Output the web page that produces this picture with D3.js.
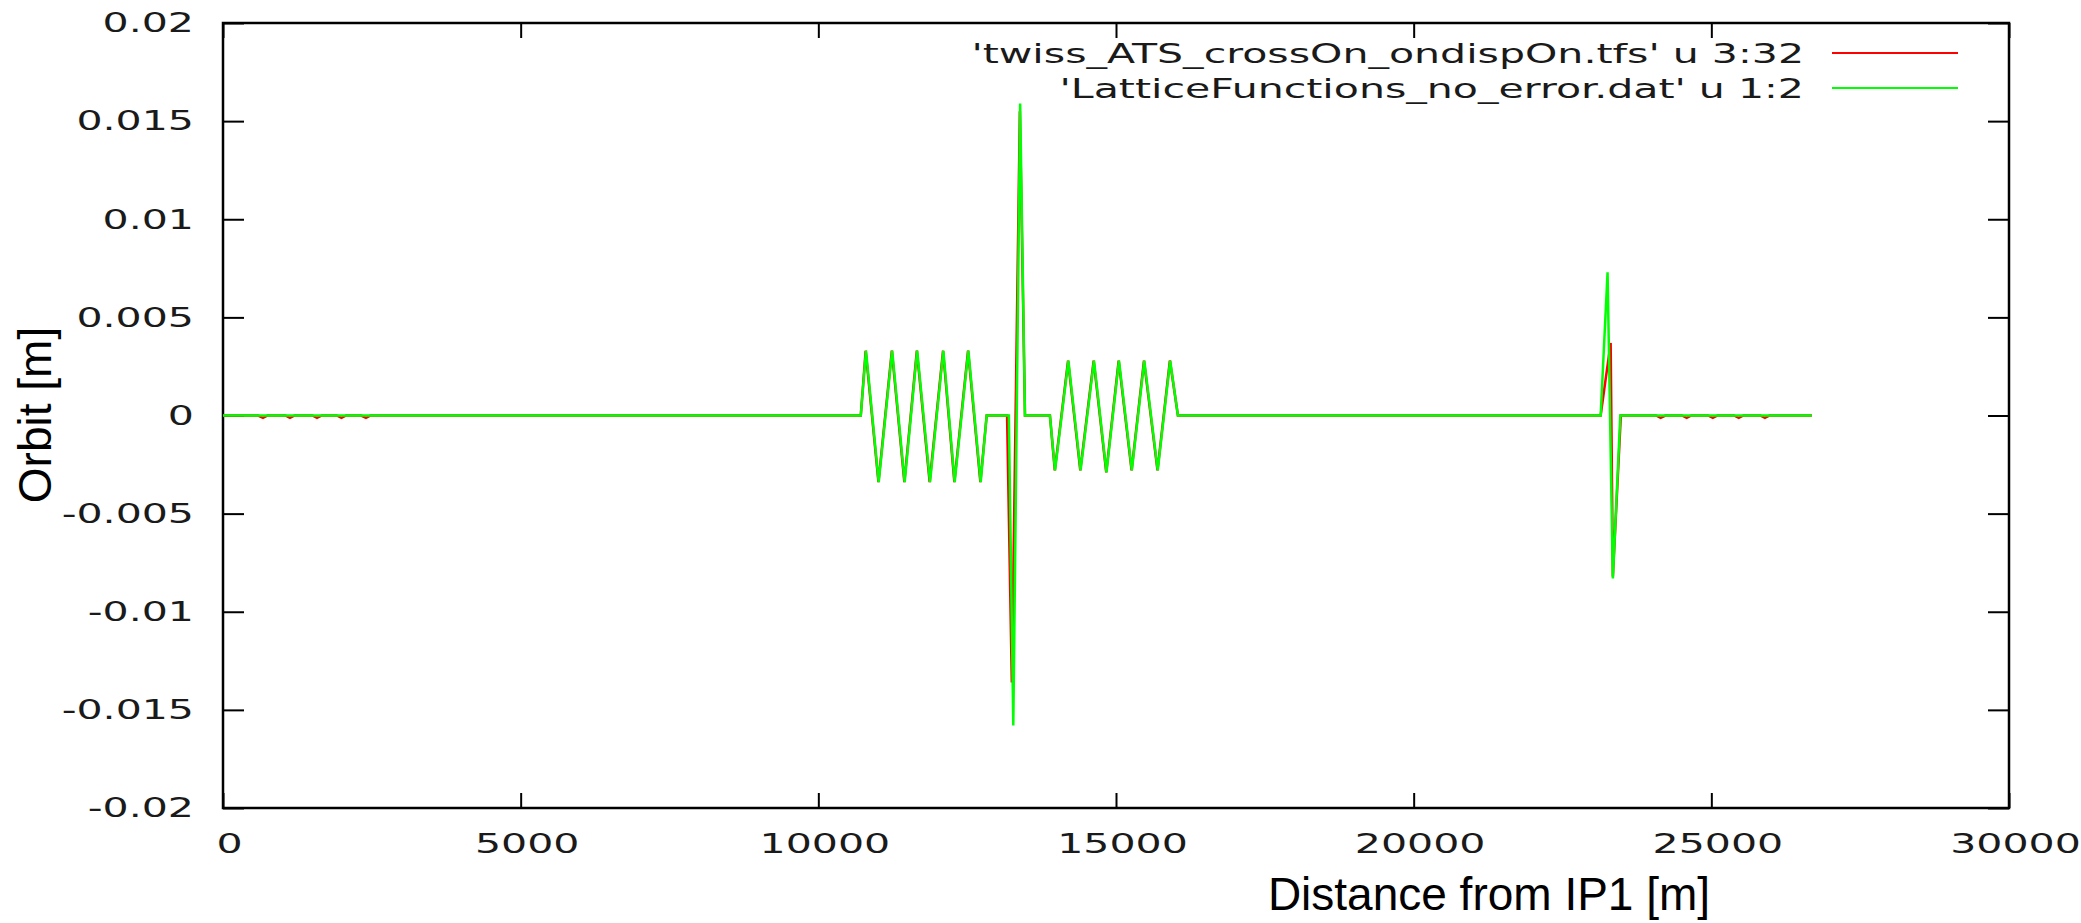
<!DOCTYPE html>
<html>
<head>
<meta charset="utf-8">
<script src="https://cdn.jsdelivr.net/npm/d3@7"></script>
<style>
  html, body { margin: 0; padding: 0; background: #ffffff; }
  svg { display: block; }
</style>
</head>
<body>
<script>
// ---------------- data ----------------
const xTicks = [0, 5000, 10000, 15000, 20000, 25000, 30000];
const xTickLabels = ["0", "5000", "10000", "15000", "20000", "25000", "30000"];
const yTicks = [0.02, 0.015, 0.01, 0.005, 0, -0.005, -0.01, -0.015, -0.02];
const yTickLabels = ["0.02", "0.015", "0.01", "0.005", "0", "-0.005", "-0.01", "-0.015", "-0.02"];
const legendLabels = ["'twiss_ATS_crossOn_ondispOn.tfs' u 3:32", "'LatticeFunctions_no_error.dat' u 1:2"];
const seriesColors = ["#ff0000", "#00ff00"];

// LatticeFunctions_no_error.dat (green)
const sGreen = [0, 10713, 10800, 11014, 11240, 11450, 11660, 11876, 12100, 12290, 12520, 12727, 12828,
  13200, 13275, 13390, 13471, 13890, 13976, 14200, 14405, 14630, 14840, 15050, 15266, 15475, 15701,
  15910, 16040, 23141, 23257, 23346, 23471, 26687];
const orbitGreen = [0, 0, 0.0033, -0.0034, 0.0033, -0.0034, 0.0033, -0.0034, 0.0033, -0.0034, 0.0033, -0.0034, 0,
  0, -0.0158, 0.0159, 0, 0, -0.0028, 0.0028, -0.0028, 0.0028, -0.0029, 0.0028, -0.0028, 0.0028, -0.0028,
  0.0028, 0, 0, 0.0073, -0.0083, 0, 0];

// twiss_ATS_crossOn_ondispOn.tfs (red)
const sRed = [0, 590, 672, 750, 1045, 1125, 1205, 1500, 1579, 1660, 1910, 1990, 2070, 2320, 2402, 2480,
  10713, 10795, 11010, 11235, 11445, 11655, 11870, 12095, 12285, 12515, 12722, 12828,
  13170, 13250, 13385, 13471, 13890, 13972, 14195, 14400, 14625, 14836, 15045, 15262, 15470, 15697,
  15905, 16040, 23141, 23309, 23346, 23480, 24070, 24148, 24230, 24505, 24586, 24665, 24945, 25025,
  25105, 25380, 25461, 25540, 25820, 25900, 25980, 26687];
const orbitRed = [0, 0, -0.00012, 0, 0, -0.00012, 0, 0, -0.00012, 0, 0, -0.00012, 0, 0, -0.00012, 0,
  0, 0.0033, -0.0034, 0.0033, -0.0034, 0.0033, -0.0034, 0.0033, -0.0034, 0.0033, -0.0034, 0,
  0, -0.0136, 0.0155, 0, 0, -0.0028, 0.0028, -0.0028, 0.0028, -0.0029, 0.0028, -0.0028, 0.0028, -0.0028,
  0.0028, 0, 0, 0.0037, -0.0082, 0, 0, -0.00012, 0, 0, -0.00012, 0, 0, -0.00012,
  0, 0, -0.00012, 0, 0, -0.00012, 0, 0];

// ---------------- layout ----------------
const W = 2081, H = 923;
const plotL = 223, plotR = 2009, plotT = 23, plotB = 808;
const textStretch = 1.58;
const tickFont = "'DejaVu Sans', Verdana, sans-serif";
const titleFont = "'Liberation Sans', Arial, Helvetica, sans-serif";

const svg = d3.select("body").append("svg").attr("width", W).attr("height", H);
svg.append("rect").attr("width", W).attr("height", H).attr("fill", "#ffffff");

const x = d3.scaleLinear().domain([0, 30000]).range([plotL, plotR]);
const y = d3.scaleLinear().domain([-0.02, 0.02]).range([plotB, plotT]);

function styleTicks(g) {
  g.select(".domain").remove();
  g.selectAll(".tick line").attr("stroke", "#000").attr("stroke-width", 2);
}

// left axis
svg.append("g")
  .attr("transform", `translate(${plotL},0)`)
  .call(d3.axisLeft(y).tickValues(yTicks).tickSize(-21).tickSizeOuter(0)
    .tickFormat((d, i) => yTickLabels[i]))
  .attr("font-family", tickFont).attr("font-size", 26)
  .call(styleTicks)
  .call(g => g.selectAll(".tick text")
    .attr("x", 0).attr("dy", "0.34em").attr("fill", "#1a1a1a")
    .attr("transform", `translate(-29,0) scale(${textStretch},1)`));

// right axis (mirror ticks)
svg.append("g")
  .attr("transform", `translate(${plotR},0)`)
  .call(d3.axisRight(y).tickValues(yTicks).tickSize(-21).tickSizeOuter(0))
  .call(styleTicks)
  .call(g => g.selectAll(".tick text").remove());

// bottom axis
svg.append("g")
  .attr("transform", `translate(0,${plotB})`)
  .call(d3.axisBottom(x).tickValues(xTicks).tickSize(-15).tickSizeOuter(0)
    .tickFormat((d, i) => xTickLabels[i]))
  .attr("font-family", tickFont).attr("font-size", 26)
  .call(styleTicks)
  .call(g => g.selectAll(".tick text")
    .attr("y", 45).attr("dy", 0).attr("fill", "#1a1a1a")
    .attr("transform", `translate(6,0) scale(${textStretch},1)`));

// top axis (mirror ticks)
svg.append("g")
  .attr("transform", `translate(0,${plotT})`)
  .call(d3.axisTop(x).tickValues(xTicks).tickSize(-15).tickSizeOuter(0))
  .call(styleTicks)
  .call(g => g.selectAll(".tick text").remove());

// border
svg.append("rect")
  .attr("x", plotL).attr("y", plotT)
  .attr("width", plotR - plotL).attr("height", plotB - plotT)
  .attr("fill", "none").attr("stroke", "#000").attr("stroke-width", 2.5);

// data lines
const line = d3.line().x(d => x(d[0])).y(d => y(d[1]));
const redData = sRed.map((s, i) => [s, orbitRed[i]]);
const greenData = sGreen.map((s, i) => [s, orbitGreen[i]]);

svg.append("path").datum(redData)
  .attr("d", line).attr("fill", "none")
  .attr("stroke", seriesColors[0]).attr("stroke-width", 2.5).attr("stroke-linejoin", "miter");
svg.append("path").datum(greenData)
  .attr("d", line).attr("fill", "none")
  .attr("stroke", seriesColors[1]).attr("stroke-width", 2.5).attr("stroke-linejoin", "miter");

// legend
const legendRowY = [53, 88];
legendLabels.forEach((lab, i) => {
  svg.append("text")
    .attr("transform", `translate(1804,${legendRowY[i] + 9.5}) scale(${textStretch},1)`)
    .attr("text-anchor", "end")
    .attr("font-family", tickFont).attr("font-size", 26).attr("fill", "#1a1a1a")
    .text(lab);
  svg.append("line")
    .attr("x1", 1832).attr("x2", 1958)
    .attr("y1", legendRowY[i]).attr("y2", legendRowY[i])
    .attr("stroke", seriesColors[i]).attr("stroke-width", 2.2);
});

// axis titles
svg.append("text")
  .attr("transform", "translate(51,415) rotate(-90)")
  .attr("text-anchor", "middle")
  .attr("font-family", titleFont).attr("font-size", 46).attr("fill", "#000")
  .text("Orbit [m]");

svg.append("text")
  .attr("x", 1489).attr("y", 910)
  .attr("text-anchor", "middle")
  .attr("font-family", titleFont).attr("font-size", 46).attr("fill", "#000")
  .text("Distance from IP1 [m]");
</script>
</body>
</html>
